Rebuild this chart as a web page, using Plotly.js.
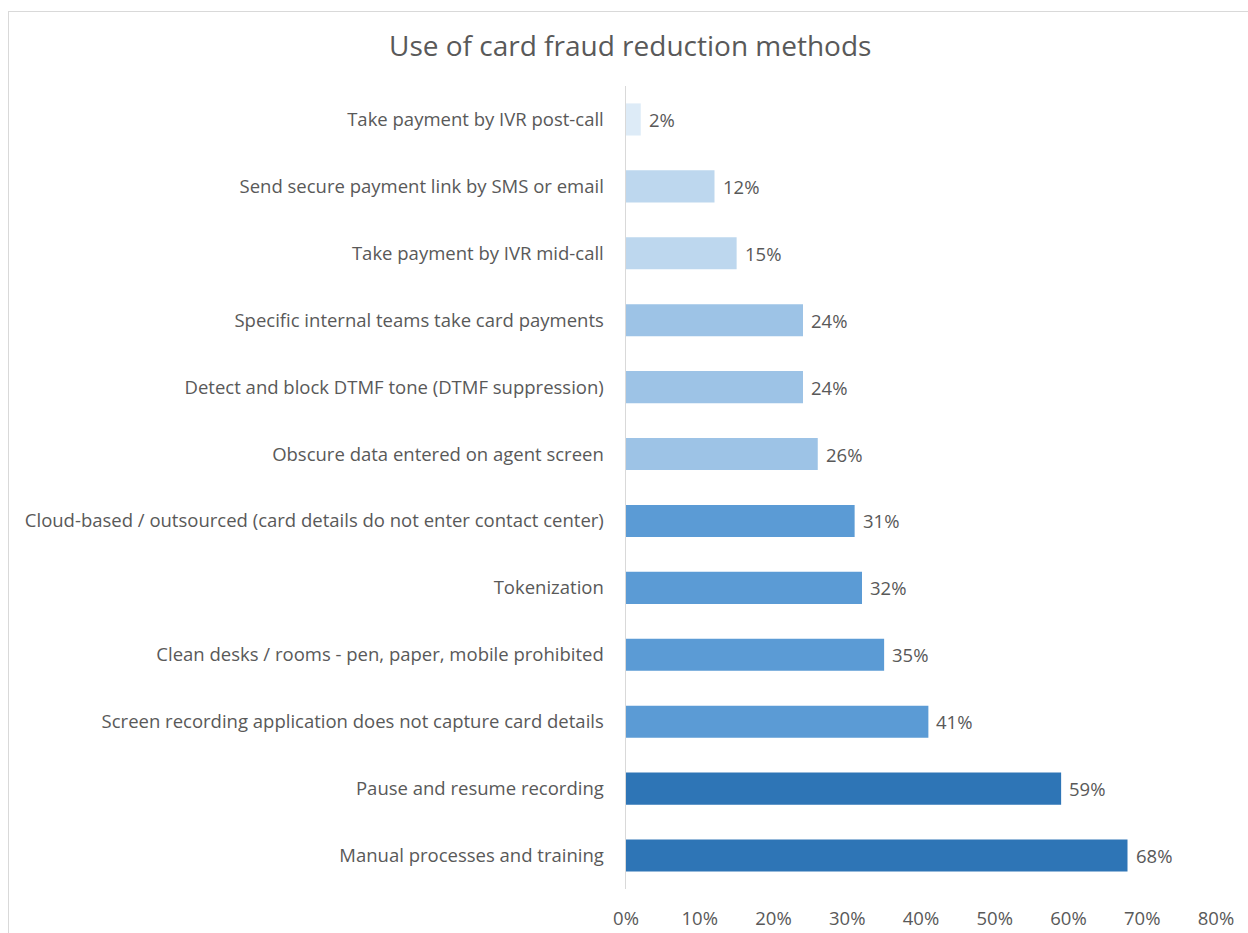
<!DOCTYPE html>
<html>
<head>
<meta charset="utf-8">
<script src="https://cdn.plot.ly/plotly-3.0.1.min.js"></script>
<style>
  html, body { margin: 0; padding: 0; background: #fff; }
  #wrap { position: relative; width: 1248px; height: 933px; overflow: hidden; }
  #chart { position: absolute; left: 0; top: 0; width: 1248px; height: 933px; }
  #frame { position: absolute; left: 8px; top: 11px; width: 1260px; height: 940px;
           border: 1px solid #d9d9d9; pointer-events: none; box-sizing: border-box; }
</style>
</head>
<body>
<div id="wrap">
  <div id="chart"></div>
  <div id="frame"></div>
</div>
<script>
// Top-to-bottom order as in the reference
const categories = [
  "Take payment by IVR post-call",
  "Send secure payment link by SMS or email",
  "Take payment by IVR mid-call",
  "Specific internal teams take card payments",
  "Detect and block DTMF tone (DTMF suppression)",
  "Obscure data entered on agent screen",
  "Cloud-based / outsourced (card details do not enter contact center)",
  "Tokenization",
  "Clean desks / rooms - pen, paper, mobile prohibited",
  "Screen recording application does not capture card details",
  "Pause and resume recording",
  "Manual processes and training"
];
const values = [0.02, 0.12, 0.15, 0.24, 0.24, 0.26, 0.31, 0.32, 0.35, 0.41, 0.59, 0.68];
const barColors = [
  "#DDEBF7", "#BDD7EE", "#BDD7EE",
  "#9DC3E6", "#9DC3E6", "#9DC3E6",
  "#5B9BD5", "#5B9BD5", "#5B9BD5", "#5B9BD5",
  "#2E75B6", "#2E75B6"
];
const xTickVals = [0, 0.1, 0.2, 0.3, 0.4, 0.5, 0.6, 0.7, 0.8];
const chartTitle = "Use of card fraud reduction methods";

const fontFamily = "'Open Sans', 'Liberation Sans', sans-serif";
const textColor = "#595959";

const trace = {
  type: "bar",
  orientation: "h",
  y: categories,
  x: values,
  width: 0.48,
  marker: { color: barColors },
  hoverinfo: "skip"
};

const annotations = values.map((v, i) => ({
  x: v, y: categories[i], xref: "x", yref: "y",
  text: Math.round(v * 100) + "%",
  showarrow: false, xanchor: "left", yanchor: "middle",
  xshift: 6,
  font: { family: fontFamily, size: 18.5, color: textColor }
}));

const layout = {
  width: 1248, height: 933,
  paper_bgcolor: "#ffffff", plot_bgcolor: "#ffffff",
  margin: { l: 626, r: 32, t: 86, b: 44 },
  title: {
    text: chartTitle,
    font: { family: fontFamily, size: 28, color: textColor },
    x: 0.505, xanchor: "center", y: 0.951, yanchor: "middle"
  },
  showlegend: false,
  xaxis: {
    range: [0, 0.8],
    tickvals: xTickVals,
    tickformat: ".0%",
    showgrid: false, zeroline: false, showline: false,
    ticks: "outside", ticklen: 13, tickcolor: "rgba(0,0,0,0)",
    tickfont: { family: fontFamily, size: 18.5, color: textColor },
    fixedrange: true
  },
  yaxis: {
    type: "category",
    autorange: "reversed",
    showgrid: false, zeroline: false,
    showline: true, linecolor: "#d9d9d9", linewidth: 1.5,
    ticks: "outside", ticklen: 17, tickcolor: "rgba(0,0,0,0)",
    tickfont: { family: fontFamily, size: 18.5, color: textColor },
    fixedrange: true
  },
  annotations: annotations
};

Plotly.newPlot("chart", [trace], layout, { displayModeBar: false, staticPlot: true });
</script>
</body>
</html>
